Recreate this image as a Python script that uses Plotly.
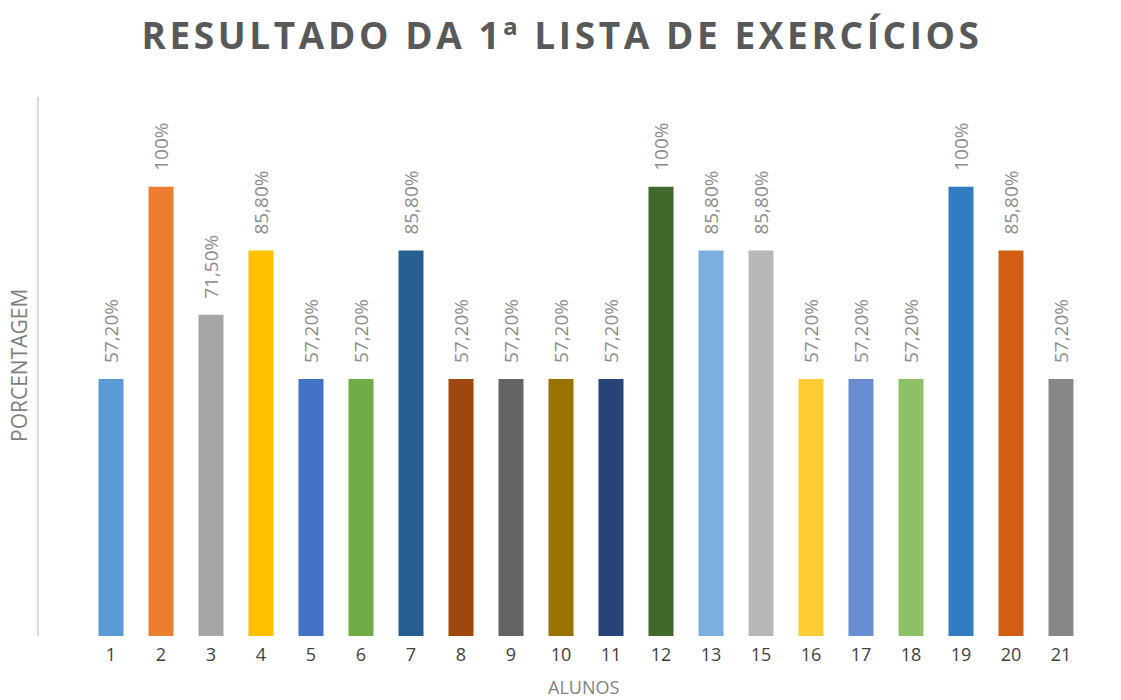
import plotly.graph_objects as go

alunos = ["1", "2", "3", "4", "5", "6", "7", "8", "9", "10", "11", "12", "13", "15",
          "16", "17", "18", "19", "20", "21"]
porcentagem = [57.2, 100, 71.5, 85.8, 57.2, 57.2, 85.8, 57.2, 57.2, 57.2, 57.2, 100,
               85.8, 85.8, 57.2, 57.2, 57.2, 100, 85.8, 57.2]
cores = ["#5B9BD5", "#ED7D31", "#A5A5A5", "#FFC000", "#4472C4", "#70AD47", "#255E91",
         "#9E480E", "#636363", "#997300", "#264478", "#43682B", "#7CAFDD", "#B7B7B7",
         "#FFCD33", "#698ED0", "#8CC168", "#327DC2", "#D26012", "#878787"]

def fmt(v):
    if float(v).is_integer():
        return f"{int(v)}%"
    return f"{v:.2f}%".replace(".", ",")

rotulos = [fmt(v) for v in porcentagem]
xs = list(range(len(alunos)))

fig = go.Figure(go.Bar(
    x=xs, y=porcentagem, width=0.5,
    marker=dict(color=cores, line=dict(width=0)),
    hoverinfo="skip",
))

annotations = []
for x, v, t in zip(xs, porcentagem, rotulos):
    annotations.append(dict(
        x=x, y=v, xref="x", yref="y", text=t, showarrow=False,
        textangle=-90, yanchor="bottom", xanchor="center", yshift=14,
        font=dict(family="Open Sans", size=19, color="#8C8C8C"),
    ))

W, H = 1121, 700
ml, mr, mt, mb = 39, 35, 97, 64
pw = W - ml - mr
ph = H - mt - mb

annotations.append(dict(
    text="PORCENTAGEM", xref="paper", yref="paper", x=(19 - ml) / pw, y=(H - mb - 366) / ph,
    showarrow=False, textangle=-90, xanchor="center", yanchor="middle",
    font=dict(family="Open Sans", size=21, color="#7F7F7F"),
))
annotations.append(dict(
    text="ALUNOS", xref="paper", yref="paper", x=(583 - ml) / pw, y=-(687 - (H - mb)) / ph,
    showarrow=False, xanchor="center", yanchor="middle",
    font=dict(family="Open Sans", size=18, color="#7F7F7F"),
))

fig.update_layout(
    width=W, height=H,
    margin=dict(l=ml, r=mr, t=mt, b=mb),
    paper_bgcolor="white", plot_bgcolor="white",
    title=dict(
        text="RESULTADO DA 1ª LISTA DE EXERCÍCIOS",
        x=562 / W, xref="container", xanchor="center", y=1 - 36 / H, yanchor="middle",
        font=dict(family="Open Sans", size=37, color="#595959", weight="bold"),
    ),
    xaxis=dict(
        tickmode="array", tickvals=xs, ticktext=alunos,
        range=[-1.44, 19.5], showgrid=False, zeroline=False, showline=False,
        ticks="", ticklabelstandoff=6,
        tickfont=dict(family="Open Sans", size=18, color="#404040"),
    ),
    yaxis=dict(
        range=[0, 1.2 * 100], showgrid=False, zeroline=False,
        showline=True, linecolor="#D9D9D9", linewidth=2,
        showticklabels=False, ticks="",
    ),
    annotations=annotations,
    showlegend=False,
)

post = """
document.body.style.margin = '0';
document.body.style.overflow = 'hidden';
var t = document.querySelector('.gtitle');
if (t) { t.style.letterSpacing = '3.6px'; }
"""

fig.write_html("out.html", post_script=post, config={"displayModeBar": False})
